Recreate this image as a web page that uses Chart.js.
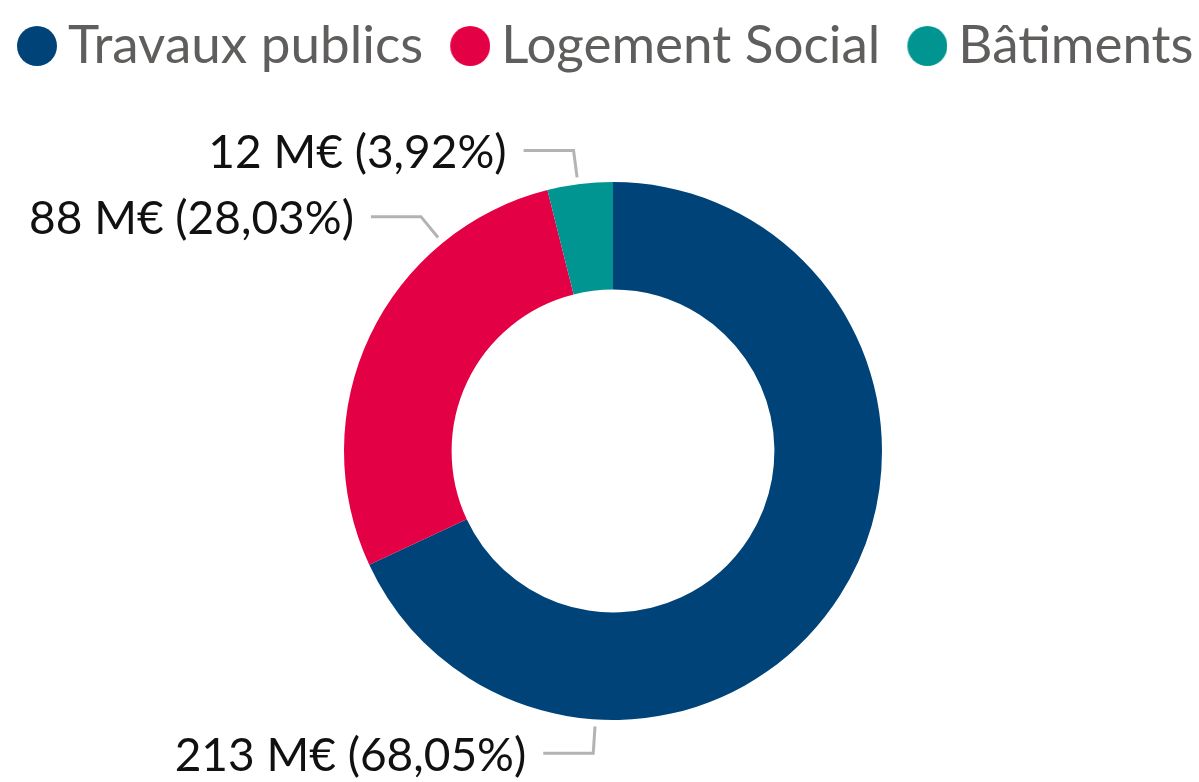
<!DOCTYPE html>
<html>
<head>
<meta charset="utf-8">
<script src="https://cdn.jsdelivr.net/npm/chart.js@4.4.1/dist/chart.umd.min.js"></script>
<style>html,body{margin:0;padding:0;background:#fff;}canvas{display:block;}</style>
</head>
<body>
<canvas id="chart" width="1199" height="782"></canvas>
<script>
// ---- data ----
const categories = ['Travaux publics', 'Logement Social', 'Bâtiments'];
const valuesMEUR = [213.0, 87.73, 12.27];
const sliceColors = ['#004379', '#E40045', '#009591'];

// ---- style ----
const FONT = 'Lato';
const LEGEND_SIZE = 53;
const LABEL_SIZE = 46;
const LEGEND_TEXT = '#605e5c';
const LABEL_TEXT = '#111111';
const LEADER = '#b3b3b3';

// legend marker: a 40px disc placed at the right end of a transparent strip
function legendMarker(color) {
  const c = document.createElement('canvas');
  c.width = 82; c.height = 40;
  const g = c.getContext('2d');
  g.fillStyle = color;
  g.beginPath();
  g.arc(82 - 20, 20, 20, 0, Math.PI * 2);
  g.fill();
  return c;
}
const markers = sliceColors.map(legendMarker);

function fmtPct(v) { return v.toFixed(2).replace('.', ','); }

const leaderLabels = {
  id: 'leaderLabels',
  afterDatasetsDraw(chart, args, opts) {
    const ctx = chart.ctx;
    const meta = chart.getDatasetMeta(0);
    const data = chart.data.datasets[0].data;
    const total = data.reduce((a, b) => a + b, 0);
    ctx.save();
    meta.data.forEach((arc, i) => {
      const p = arc.getProps(['x', 'y', 'startAngle', 'endAngle', 'outerRadius'], true);
      const a = p.startAngle + opts.anchor[i] * (p.endAngle - p.startAngle);
      const cos = Math.cos(a), sin = Math.sin(a);
      const r1 = p.outerRadius + opts.gap;
      const x1 = p.x + r1 * cos, y1 = p.y + r1 * sin;
      const x2 = x1 + opts.radial * cos, y2 = y1 + opts.radial * sin;
      const side = cos < 0 ? -1 : 1;
      const x3 = x2 + side * opts.horizontal;
      ctx.strokeStyle = LEADER;
      ctx.lineWidth = 3;
      ctx.beginPath();
      ctx.moveTo(x1, y1); ctx.lineTo(x2, y2); ctx.lineTo(x3, y2);
      ctx.stroke();
      const v = data[i];
      const txt = Math.round(v) + ' M€ (' + fmtPct(v / total * 100) + '%)';
      ctx.font = LABEL_SIZE + 'px ' + FONT;
      ctx.fillStyle = LABEL_TEXT;
      ctx.textBaseline = 'middle';
      ctx.textAlign = side < 0 ? 'right' : 'left';
      ctx.fillText(txt, x3 + side * opts.textGap, y2 + opts.textDy);
    });
    ctx.restore();
  }
};

new Chart(document.getElementById('chart'), {
  type: 'doughnut',
  data: {
    labels: categories,
    datasets: [{
      data: valuesMEUR,
      backgroundColor: sliceColors,
      borderWidth: 0,
      hoverOffset: 0
    }]
  },
  plugins: [leaderLabels],
  options: {
    responsive: false,
    animation: false,
    cutout: '60%',
    layout: { padding: { top: 19, left: -10, right: 0, bottom: 62 } },
    plugins: {
      tooltip: { enabled: false },
      // empty spacer between legend and doughnut
      title: {
        display: true, text: '', weight: 500,
        font: { size: 1, lineHeight: 1 },
        padding: { top: 0, bottom: 98.5 }
      },
      // empty spacer on the left to shift the doughnut centre
      subtitle: {
        display: true, text: '', position: 'left', fullSize: false,
        font: { size: 1, lineHeight: 1 },
        padding: { top: 0, bottom: 36 }
      },
      legend: {
        position: 'top',
        align: 'start',
        labels: {
          usePointStyle: true,
          pointStyleWidth: 51,
          padding: 0.5,
          color: LEGEND_TEXT,
          font: { family: FONT, size: LEGEND_SIZE },
          generateLabels(chart) {
            const items = Chart.overrides.doughnut.plugins.legend.labels.generateLabels(chart);
            items.forEach((it, i) => { it.pointStyle = markers[i]; });
            return items;
          }
        }
      },
      leaderLabels: {
        anchor: [0.75, 0.75, 0.47],
        gap: 7, radial: 27, horizontal: 50, textGap: 17, textDy: 3
      }
    }
  }
});
</script>
</body>
</html>
